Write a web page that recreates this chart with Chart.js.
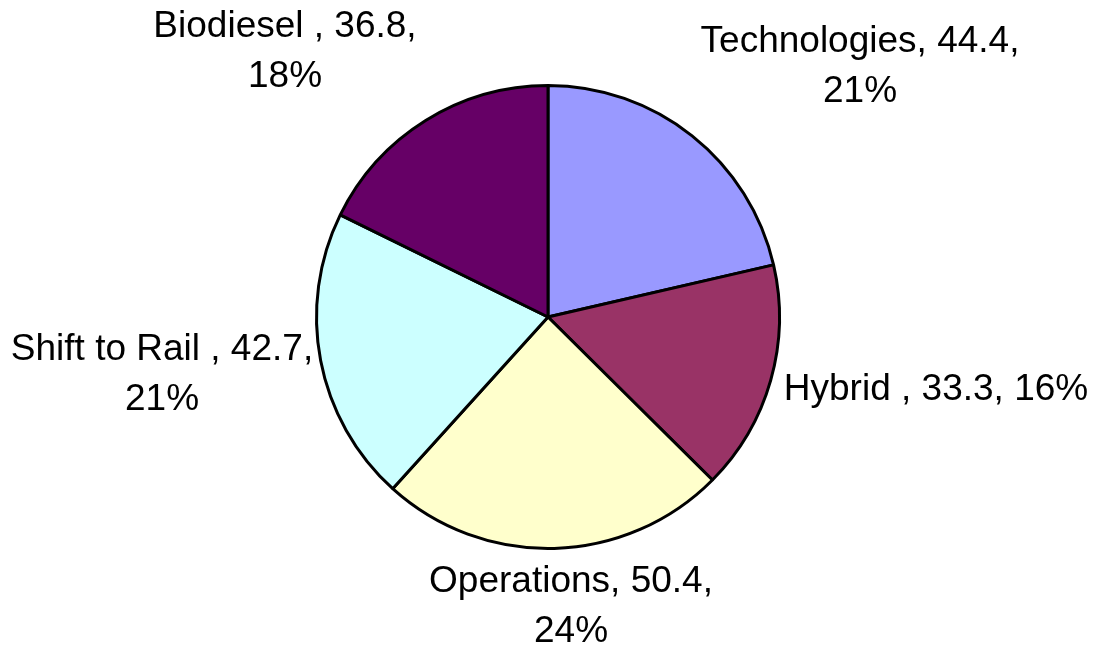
<!DOCTYPE html>
<html>
<head>
<meta charset="utf-8">
<script src="https://cdn.jsdelivr.net/npm/chart.js@4.4.1/dist/chart.umd.min.js"></script>
<style>
  html, body { margin: 0; padding: 0; background: #fff; }
  #wrap { width: 1093px; height: 651px; position: relative; }
</style>
</head>
<body>
<div id="wrap"><canvas id="chart-pie"></canvas></div>
<script>
const categories = ['Technologies', 'Hybrid ', 'Operations', 'Shift to Rail ', 'Biodiesel '];
const values = [44.4, 33.3, 50.4, 42.7, 36.8];
const colors = ['#9999FF', '#993366', '#FFFFCC', '#CCFFFF', '#660066'];

// vi tri nhan: lech so voi tam hinh tron (px), va co xuong dong hay khong
const labelOffsets = [[312, -250], [388, 73], [23, 290], [-386, 58], [-263, -265]];
const labelWrap = [true, false, true, true, true];

const total = values.reduce((a, b) => a + b, 0);

const labelPlugin = {
    id: 'outsideLabels',
    afterDraw(chart) {
        const ctx = chart.ctx;
        const arc = chart.getDatasetMeta(0).data[0];
        const cx = arc.x, cy = arc.y;
        ctx.save();
        ctx.font = '37px "Liberation Sans", Arial, sans-serif';
        ctx.fillStyle = '#000';
        ctx.textAlign = 'center';
        ctx.textBaseline = 'middle';
        categories.forEach((name, i) => {
            const pct = Math.round(values[i] / total * 100) + '%';
            const first = name + ', ' + values[i].toFixed(1) + ',';
            const x = cx + labelOffsets[i][0];
            const y = cy + labelOffsets[i][1];
            if (labelWrap[i]) {
                ctx.fillText(first, x, y - 25);
                ctx.fillText(pct, x, y + 25);
            } else {
                ctx.fillText(first + ' ' + pct, x, y);
            }
        });
        ctx.restore();
    }
};

const ctx = document.getElementById('chart-pie');
new Chart(ctx, {
    type: 'pie',
    data: {
        labels: categories,
        datasets: [{
            data: values,
            backgroundColor: colors,
            borderColor: '#000',
            borderWidth: 3
        }]
    },
    options: {
        responsive: true,
        maintainAspectRatio: false,
        animation: false,
        layout: {
            padding: { left: 300, right: 297, top: 84, bottom: 101 }
        },
        plugins: {
            legend: { display: false },
            tooltip: { enabled: false }
        }
    },
    plugins: [labelPlugin]
});
</script>
</body>
</html>
